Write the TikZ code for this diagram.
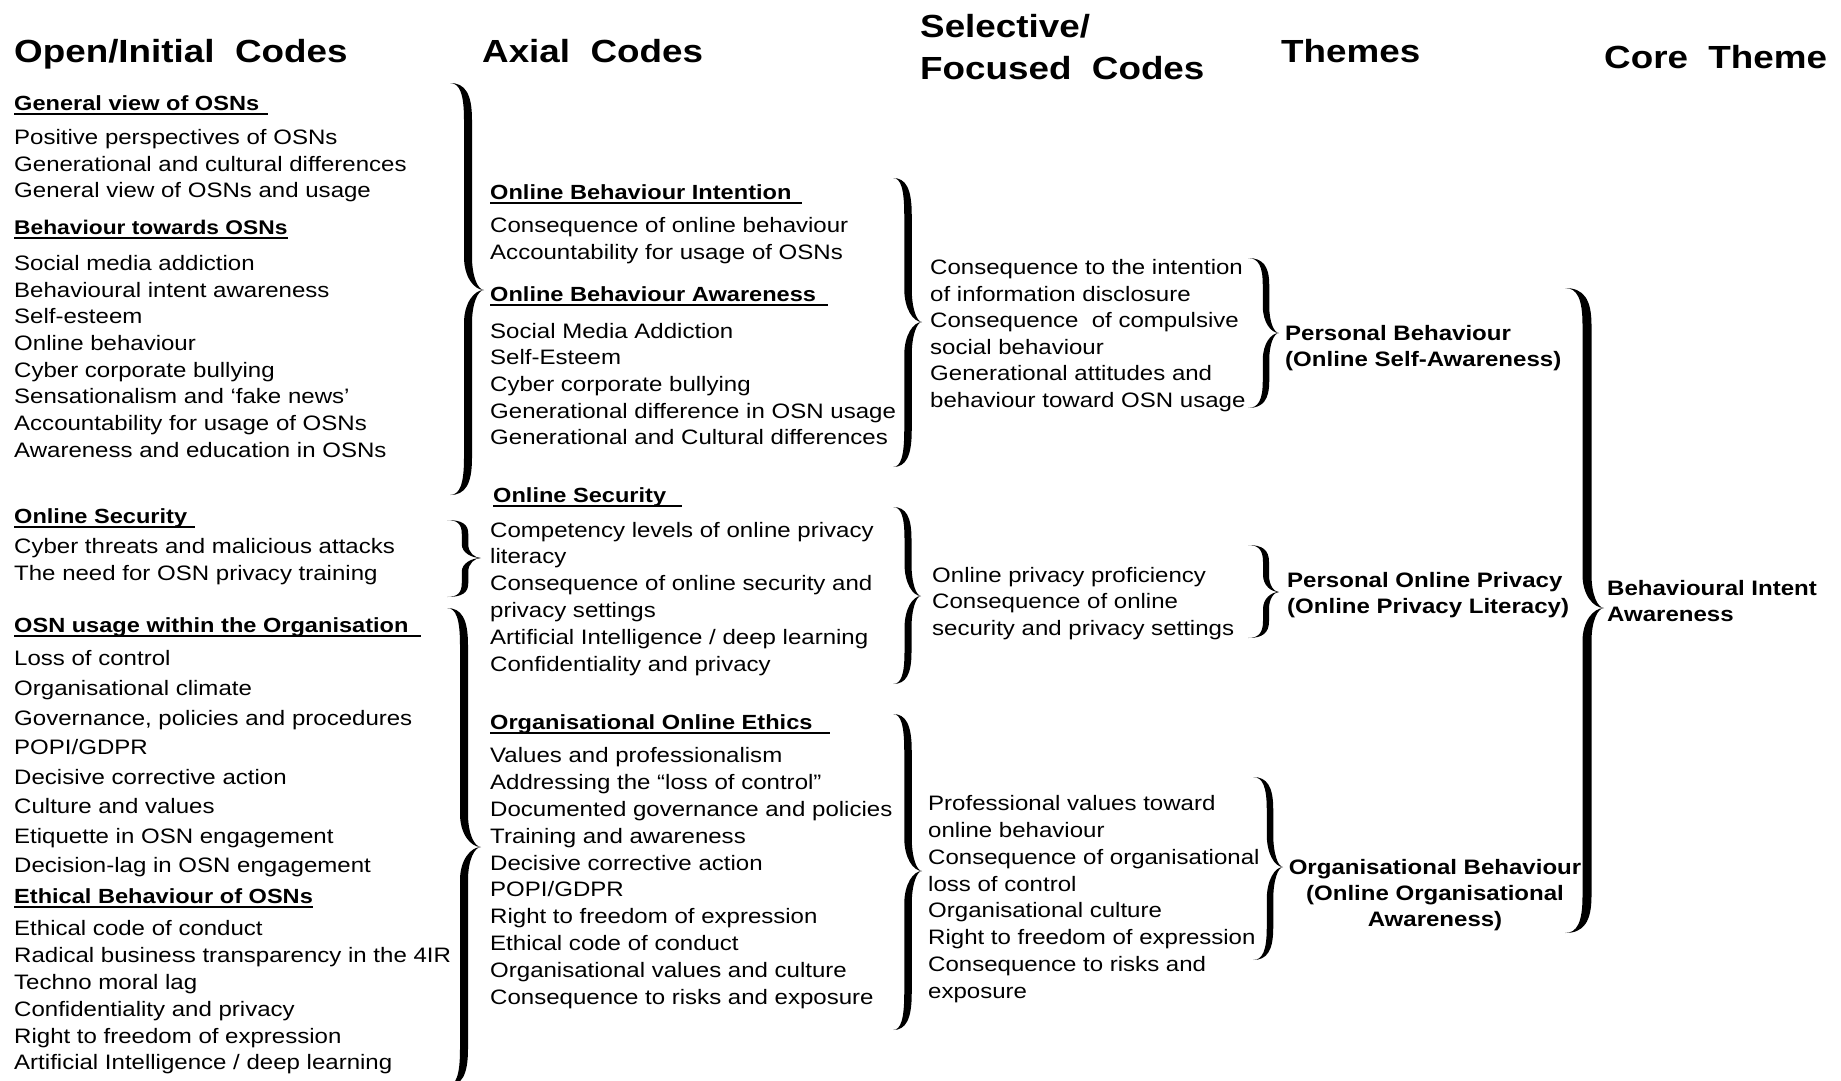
\documentclass[tikz,border=0pt]{standalone}
\usepackage{fontspec}
\setmainfont{Liberation Sans}[FakeStretch=1.15]
% right-facing calligraphic brace: end x, spine x, tip x, top y, tip y, bottom y, stroke width
\newcommand{\mybrace}[7]{%
  \pgfmathsetmacro\bcL{#2-#7/2}%
  \pgfmathsetmacro\bcR{#2+#7/2}%
  \pgfmathsetmacro\bcT{min(37,(#5-#4)*0.36)}%
  \pgfmathsetmacro\bcM{min(33,(#5-#4)*0.36)}%
  \fill[black] (#1,#4)
    .. controls ({#1+0.7*(\bcR-#1)},#4) and (\bcR,{#4+0.3*\bcT}) .. (\bcR,{#4+\bcT})
    -- (\bcR,{#5-\bcM})
    .. controls (\bcR,{#5-0.4*\bcM}) and ({#3-0.5*(#3-\bcR)},#5) .. (#3,#5)
    .. controls ({#3-0.5*(#3-\bcR)},#5) and (\bcR,{#5+0.4*\bcM}) .. (\bcR,{#5+\bcM})
    -- (\bcR,{#6-\bcT})
    .. controls (\bcR,{#6-0.3*\bcT}) and ({#1+0.7*(\bcR-#1)},#6) .. (#1,#6)
    .. controls ({#1+0.7*(\bcL-#1)},#6) and (\bcL,{#6-0.3*\bcT}) .. (\bcL,{#6-\bcT})
    -- (\bcL,{#5+\bcM})
    .. controls (\bcL,{#5+0.4*\bcM}) and ({#3-0.5*(#3-\bcL)},#5) .. (#3,#5)
    .. controls ({#3-0.5*(#3-\bcL)},#5) and (\bcL,{#5-0.4*\bcM}) .. (\bcL,{#5-\bcM})
    -- (\bcL,{#4+\bcT})
    .. controls (\bcL,{#4+0.3*\bcT}) and ({#1+0.7*(\bcL-#1)},#4) .. (#1,#4) -- cycle;
}
\begin{document}
\begin{tikzpicture}[x=1pt,y=-1pt,
  body/.style={anchor=base west, inner sep=0pt, font=\fontsize{20.9}{24}\selectfont},
  hdr/.style={anchor=base west, inner sep=0pt, font=\bfseries\fontsize{20.5}{24}\selectfont},
  ttl/.style={anchor=base west, inner sep=0pt, font=\bfseries\fontsize{32}{38}\selectfont},
  thm/.style={anchor=base west, inner sep=0pt, font=\bfseries\fontsize{20.9}{24}\selectfont},
  thmc/.style={thm, anchor=base},
  uline/.style={line width=2pt}]
\useasboundingbox (0,0) rectangle (1841,1080);
\fill[white] (0,0) rectangle (1841,1080);
\clip (0,0) rectangle (1841,1080);

% ---------------- Titles
\node[ttl] (t1) at (14,62) {Open/Initial\ \ Codes};
\node[ttl] (t2) at (482,62) {Axial\ \ Codes};
\node[ttl] (t3a) at (920,37) {Selective/};
\node[ttl] (t3b) at (920,79) {Focused\ \ Codes};
\node[ttl] (t4) at (1281,62) {Themes};
\node[ttl] (t5) at (1604,68) {Core\ \ Theme};

% ---------------- Column 1
\node[hdr] (c1h1) at (14,110) {General view of OSNs};
\node[body] (c1a1) at (14,144) {Positive perspectives of OSNs};
\node[body] (c1a2) at (14,171) {Generational and cultural differences};
\node[body] (c1a3) at (14,197) {General view of OSNs and usage};
\node[hdr, font=\bfseries\fontsize{19.8}{24}\selectfont] (c1h2) at (14,234) {Behaviour towards OSNs};
\node[body] (c1b1) at (14,270) {Social media addiction};
\node[body] (c1b2) at (14,297) {Behavioural intent awareness};
\node[body] (c1b3) at (14,323) {Self-esteem};
\node[body] (c1b4) at (14,350) {Online behaviour};
\node[body] (c1b5) at (14,377) {Cyber corporate bullying};
\node[body] (c1b6) at (14,403) {Sensationalism and ‘fake news’};
\node[body] (c1b7) at (14,430) {Accountability for usage of OSNs};
\node[body] (c1b8) at (14,457) {Awareness and education in OSNs};
\node[hdr] (c1h3) at (14,523) {Online Security};
\node[body] (c1c1) at (14,553) {Cyber threats and malicious attacks};
\node[body] (c1c2) at (14,580) {The need for OSN privacy training};
\node[hdr] (c1h4) at (14,632) {OSN usage within the Organisation};
\node[body] (c1d1) at (14,665) {Loss of control};
\node[body] (c1d2) at (14,695) {Organisational climate};
\node[body] (c1d3) at (14,725) {Governance, policies and procedures};
\node[body] (c1d4) at (14,754) {POPI/GDPR};
\node[body] (c1d5) at (14,784) {Decisive corrective action};
\node[body] (c1d6) at (14,813) {Culture and values};
\node[body] (c1d7) at (14,843) {Etiquette in OSN engagement};
\node[body] (c1d8) at (14,872) {Decision-lag in OSN engagement};
\node[hdr] (c1h5) at (14,903) {Ethical Behaviour of OSNs};
\node[body] (c1e1) at (14,935) {Ethical code of conduct};
\node[body] (c1e2) at (14,962) {Radical business transparency in the 4IR};
\node[body] (c1e3) at (14,989) {Techno moral lag};
\node[body] (c1e4) at (14,1016) {Confidentiality and privacy};
\node[body] (c1e5) at (14,1043) {Right to freedom of expression};
\node[body] (c1e6) at (14,1069) {Artificial Intelligence / deep learning};

\draw[uline] ([yshift=-3.5pt]c1h1.base west) -- ++(254,0);
\draw[uline] ([yshift=-3.5pt]c1h2.base west) -- ([yshift=-3.5pt]c1h2.base east);
\draw[uline] ([yshift=-3.5pt]c1h3.base west) -- ++(181,0);
\draw[uline] ([yshift=-3.5pt]c1h4.base west) -- ++(407,0);
\draw[uline] ([yshift=-3.5pt]c1h5.base west) -- ([yshift=-3.5pt]c1h5.base east);

% ---------------- Column 2
\node[hdr] (c2h1) at (490,199) {Online Behaviour Intention};
\node[body] (c2a1) at (490,232) {Consequence of online behaviour};
\node[body] (c2a2) at (490,259) {Accountability for usage of OSNs};
\node[hdr] (c2h2) at (490,301) {Online Behaviour Awareness};
\node[body] (c2b1) at (490,338) {Social Media Addiction};
\node[body] (c2b2) at (490,364) {Self-Esteem};
\node[body] (c2b3) at (490,391) {Cyber corporate bullying};
\node[body] (c2b4) at (490,418) {Generational difference in OSN usage};
\node[body] (c2b5) at (490,444) {Generational and Cultural differences};
\node[hdr] (c2h3) at (493,502) {Online Security};
\node[body] (c2c1) at (490,537) {Competency levels of online privacy};
\node[body] (c2c2) at (490,563) {literacy};
\node[body] (c2c3) at (490,590) {Consequence of online security and};
\node[body] (c2c4) at (490,617) {privacy settings};
\node[body] (c2c5) at (490,644) {Artificial Intelligence / deep learning};
\node[body] (c2c6) at (490,671) {Confidentiality and privacy};
\node[hdr] (c2h4) at (490,729) {Organisational Online Ethics};
\node[body] (c2d1) at (490,762) {Values and professionalism};
\node[body] (c2d2) at (490,789) {Addressing the “loss of control”};
\node[body] (c2d3) at (490,816) {Documented governance and policies};
\node[body] (c2d4) at (490,843) {Training and awareness};
\node[body] (c2d5) at (490,870) {Decisive corrective action};
\node[body] (c2d6) at (490,896) {POPI/GDPR};
\node[body] (c2d7) at (490,923) {Right to freedom of expression};
\node[body] (c2d8) at (490,950) {Ethical code of conduct};
\node[body] (c2d9) at (490,977) {Organisational values and culture};
\node[body] (c2d10) at (490,1004) {Consequence to risks and exposure};

\draw[uline] ([yshift=-3.5pt]c2h1.base west) -- ++(312,0);
\draw[uline] ([yshift=-3.5pt]c2h2.base west) -- ++(338,0);
\draw[uline] ([yshift=-3.5pt]c2h3.base west) -- ++(189,0);
\draw[uline] ([yshift=-3.5pt]c2h4.base west) -- ++(340,0);

% ---------------- Column 3
\node[body] (c3a1) at (930,274) {Consequence to the intention};
\node[body] (c3a2) at (930,301) {of information disclosure};
\node[body] (c3a3) at (930,327) {Consequence\ \ of compulsive};
\node[body] (c3a4) at (930,354) {social behaviour};
\node[body] (c3a5) at (930,380) {Generational attitudes and};
\node[body] (c3a6) at (930,407) {behaviour toward OSN usage};
\node[body] (c3b1) at (932,582) {Online privacy proficiency};
\node[body] (c3b2) at (932,608) {Consequence of online};
\node[body] (c3b3) at (932,635) {security and privacy settings};
\node[body] (c3c1) at (928,810) {Professional values toward};
\node[body] (c3c2) at (928,837) {online behaviour};
\node[body] (c3c3) at (928,864) {Consequence of organisational};
\node[body] (c3c4) at (928,891) {loss of control};
\node[body] (c3c5) at (928,917) {Organisational culture};
\node[body] (c3c6) at (928,944) {Right to freedom of expression};
\node[body] (c3c7) at (928,971) {Consequence to risks and};
\node[body] (c3c8) at (928,998) {exposure};

% ---------------- Column 4 (themes)
\node[thm] (th1a) at (1285,340) {Personal Behaviour};
\node[thm] (th1b) at (1285,366) {(Online Self-Awareness)};
\node[thm] (th2a) at (1287,587) {Personal Online Privacy};
\node[thm] (th2b) at (1287,613) {(Online Privacy Literacy)};
\node[thmc] (th3a) at (1435,874) {Organisational Behaviour};
\node[thmc] (th3b) at (1435,900) {(Online Organisational};
\node[thmc] (th3c) at (1435,926) {Awareness)};

% ---------------- Column 5 (core theme)
\node[thm] (coreA) at (1607,595) {Behavioural Intent};
\node[thm] (coreB) at (1607,621) {Awareness};

% ---------------- Braces
\mybrace{450}{468}{484}{83}{290}{495}{8}
\mybrace{447}{465}{481}{520}{558}{597}{6.5}
\mybrace{447}{464}{481}{608}{847}{1086}{8}
\mybrace{893}{908}{922}{178}{322}{467}{7.5}
\mybrace{893}{908}{921}{507}{596}{684}{7}
\mybrace{893}{908}{922}{714}{871}{1030}{7.5}
\mybrace{1248}{1266}{1279}{258}{333}{408}{6.5}
\mybrace{1248}{1266}{1279}{545}{592}{638}{6}
\mybrace{1253}{1270}{1283}{777}{867}{960}{6.5}
\mybrace{1565}{1587}{1604}{288}{608}{933}{9}
\end{tikzpicture}
\end{document}
